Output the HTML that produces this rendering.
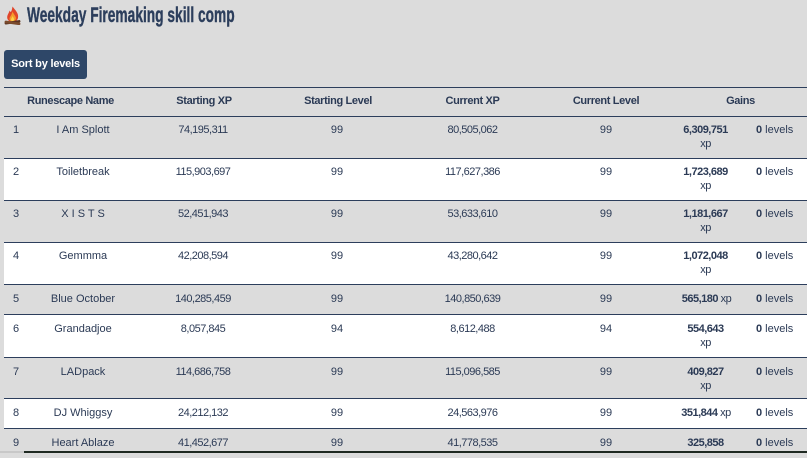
<!DOCTYPE html>
<html><head><meta charset="utf-8">
<style>
html,body{margin:0;padding:0;}
body{width:807px;height:453px;overflow:hidden;background:#dcdcdc;position:relative;font-family:"Liberation Sans",sans-serif;color:#2b3a55;font-size:11px;}
.row{position:absolute;left:4px;right:0;border-top:1px solid #2c3e5c;box-sizing:border-box;}
.g{background:#dcdcdc;}
.w{background:#ffffff;}
.c{position:absolute;width:200px;margin-left:-100px;text-align:center;line-height:14px;white-space:nowrap;}
.n{letter-spacing:-0.5px;}
.l{position:absolute;line-height:14px;white-space:nowrap;}
.h{font-weight:bold;letter-spacing:-0.35px;}
b{font-weight:bold;}
</style></head><body>

<svg style="position:absolute;left:4px;top:6px" width="17" height="19" viewBox="0 0 17 19">
<path d="M8.5 0.5 C11 4 15 7 14 12 C13.5 14.5 11 16 8.5 16 C5.5 16 3 14 3.2 11 C3.4 8.5 5 7 5.5 4.5 C6.5 6.5 7.5 7 8.5 0.5Z" fill="#e0452a"/>
<path d="M8.5 5.5 C10 9 12.5 10.5 11.8 13 C11.2 15 9.5 15.5 8.5 15.5 C7 15.5 5.3 14.5 5.5 12.5 C5.8 10.5 7.5 9.5 8.5 5.5Z" fill="#f59a2c"/>
<path d="M8.5 10 C9.5 12 10.5 12.8 10 14.2 C9.6 15.2 7.6 15.2 7.1 14.2 C6.7 13 8 12 8.5 10Z" fill="#fbd34a"/>
<rect x="0.5" y="15" width="16" height="2.6" rx="1.3" fill="#5a3320" transform="rotate(-8 8.5 16.3)"/>
<rect x="0.5" y="15.6" width="16" height="2.6" rx="1.3" fill="#7a4a2c" transform="rotate(8 8.5 16.9)"/>
</svg>
<div style="position:absolute;left:27px;top:5px;font-size:21px;font-weight:bold;color:#2c3e5c;white-space:nowrap;transform:scaleX(0.655);transform-origin:0 0;line-height:22px;-webkit-text-stroke:0.4px #2c3e5c;">Weekday Firemaking skill comp</div>

<div style="position:absolute;left:4px;top:50px;width:83px;height:29px;background:#2e4768;border-radius:3px;color:#fff;font-weight:bold;font-size:11px;line-height:29px;text-align:center;letter-spacing:-0.2px;">Sort by levels</div>

<div class="row g" style="top:87px;height:29px;"></div>
<div class="row g" style="top:116px;height:42px;"></div>
<div class="row w" style="top:158px;height:42px;"></div>
<div class="row g" style="top:200px;height:42px;"></div>
<div class="row w" style="top:242px;height:42px;"></div>
<div class="row g" style="top:284px;height:30px;"></div>
<div class="row w" style="top:314px;height:43px;"></div>
<div class="row g" style="top:357px;height:41px;"></div>
<div class="row w" style="top:398px;height:30px;"></div>
<div class="row g" style="top:428px;height:30px;"></div>

<!-- header -->
<div class="c h" style="left:70.5px;top:94px;">Runescape Name</div>
<div class="c h" style="left:204px;top:94px;">Starting XP</div>
<div class="c h" style="left:338px;top:94px;">Starting Level</div>
<div class="c h" style="left:472.5px;top:94px;">Current XP</div>
<div class="c h" style="left:606px;top:94px;">Current Level</div>
<div class="c h" style="left:740.5px;top:94px;">Gains</div>

<!-- row 1 -->
<div class="l" style="left:13px;top:123px;">1</div>
<div class="c" style="left:83px;top:123px;">I Am Splott</div>
<div class="c n" style="left:203px;top:123px;">74,195,311</div>
<div class="c" style="left:337px;top:123px;">99</div>
<div class="c n" style="left:472.5px;top:123px;">80,505,062</div>
<div class="c" style="left:606px;top:123px;">99</div>
<div class="c n" style="left:705.5px;top:123px;"><b>6,309,751</b><br>xp</div>
<div class="l" style="left:756px;top:123px;"><b>0</b> levels</div>

<!-- row 2 -->
<div class="l" style="left:13px;top:165px;">2</div>
<div class="c" style="left:83px;top:165px;">Toiletbreak</div>
<div class="c n" style="left:203px;top:165px;">115,903,697</div>
<div class="c" style="left:337px;top:165px;">99</div>
<div class="c n" style="left:472.5px;top:165px;">117,627,386</div>
<div class="c" style="left:606px;top:165px;">99</div>
<div class="c n" style="left:705.5px;top:165px;"><b>1,723,689</b><br>xp</div>
<div class="l" style="left:756px;top:165px;"><b>0</b> levels</div>

<!-- row 3 -->
<div class="l" style="left:13px;top:207px;">3</div>
<div class="c" style="left:83px;top:207px;">X I S T S</div>
<div class="c n" style="left:203px;top:207px;">52,451,943</div>
<div class="c" style="left:337px;top:207px;">99</div>
<div class="c n" style="left:472.5px;top:207px;">53,633,610</div>
<div class="c" style="left:606px;top:207px;">99</div>
<div class="c n" style="left:705.5px;top:207px;"><b>1,181,667</b><br>xp</div>
<div class="l" style="left:756px;top:207px;"><b>0</b> levels</div>

<!-- row 4 -->
<div class="l" style="left:13px;top:249px;">4</div>
<div class="c" style="left:83px;top:249px;">Gemmma</div>
<div class="c n" style="left:203px;top:249px;">42,208,594</div>
<div class="c" style="left:337px;top:249px;">99</div>
<div class="c n" style="left:472.5px;top:249px;">43,280,642</div>
<div class="c" style="left:606px;top:249px;">99</div>
<div class="c n" style="left:705.5px;top:249px;"><b>1,072,048</b><br>xp</div>
<div class="l" style="left:756px;top:249px;"><b>0</b> levels</div>

<!-- row 5 -->
<div class="l" style="left:13px;top:292px;">5</div>
<div class="c" style="left:83px;top:292px;">Blue October</div>
<div class="c n" style="left:203px;top:292px;">140,285,459</div>
<div class="c" style="left:337px;top:292px;">99</div>
<div class="c n" style="left:472.5px;top:292px;">140,850,639</div>
<div class="c" style="left:606px;top:292px;">99</div>
<div class="c n" style="left:706.5px;top:292px;"><b>565,180</b> xp</div>
<div class="l" style="left:756px;top:292px;"><b>0</b> levels</div>

<!-- row 6 -->
<div class="l" style="left:13px;top:322px;">6</div>
<div class="c" style="left:83px;top:322px;">Grandadjoe</div>
<div class="c n" style="left:203px;top:322px;">8,057,845</div>
<div class="c" style="left:337px;top:322px;">94</div>
<div class="c n" style="left:472.5px;top:322px;">8,612,488</div>
<div class="c" style="left:606px;top:322px;">94</div>
<div class="c n" style="left:705.5px;top:322px;"><b>554,643</b><br>xp</div>
<div class="l" style="left:756px;top:322px;"><b>0</b> levels</div>

<!-- row 7 -->
<div class="l" style="left:13px;top:365px;">7</div>
<div class="c" style="left:83px;top:365px;">LADpack</div>
<div class="c n" style="left:203px;top:365px;">114,686,758</div>
<div class="c" style="left:337px;top:365px;">99</div>
<div class="c n" style="left:472.5px;top:365px;">115,096,585</div>
<div class="c" style="left:606px;top:365px;">99</div>
<div class="c n" style="left:705.5px;top:365px;"><b>409,827</b><br>xp</div>
<div class="l" style="left:756px;top:365px;"><b>0</b> levels</div>

<!-- row 8 -->
<div class="l" style="left:13px;top:406px;">8</div>
<div class="c" style="left:83px;top:406px;">DJ Whiggsy</div>
<div class="c n" style="left:203px;top:406px;">24,212,132</div>
<div class="c" style="left:337px;top:406px;">99</div>
<div class="c n" style="left:472.5px;top:406px;">24,563,976</div>
<div class="c" style="left:606px;top:406px;">99</div>
<div class="c n" style="left:706px;top:406px;"><b>351,844</b> xp</div>
<div class="l" style="left:756px;top:406px;"><b>0</b> levels</div>

<!-- row 9 -->
<div class="l" style="left:13px;top:436px;">9</div>
<div class="c" style="left:83px;top:436px;">Heart Ablaze</div>
<div class="c n" style="left:203px;top:436px;">41,452,677</div>
<div class="c" style="left:337px;top:436px;">99</div>
<div class="c n" style="left:472.5px;top:436px;">41,778,535</div>
<div class="c" style="left:606px;top:436px;">99</div>
<div class="c n" style="left:705.5px;top:436px;"><b>325,858</b></div>
<div class="l" style="left:756px;top:436px;"><b>0</b> levels</div>

<div style="position:absolute;left:0;top:451px;width:24px;height:2px;background:#c8c8c8;"></div>
<div style="position:absolute;left:24px;top:451px;right:0;height:2px;background:#1f2a22;"></div>
</body></html>
